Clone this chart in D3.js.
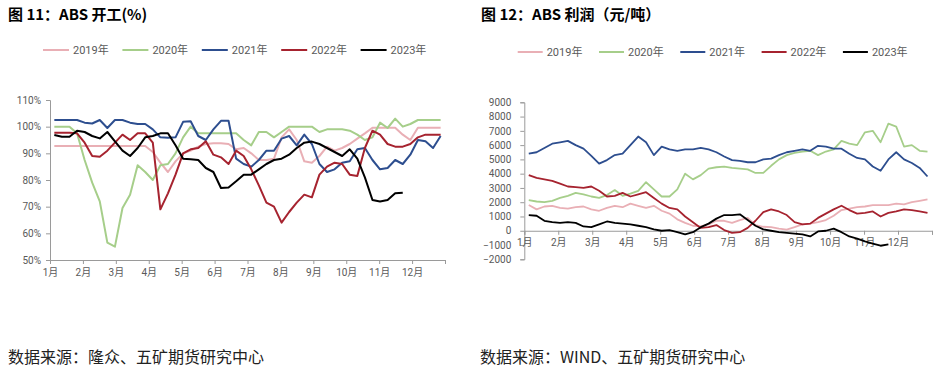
<!DOCTYPE html>
<html>
<head>
<meta charset="utf-8">
<script src="https://cdn.jsdelivr.net/npm/d3@7"></script>
<style>
  body { margin: 0; background: #fff; }
  text { font-family: Roboto, "Noto Sans CJK SC", sans-serif; }
</style>
</head>
<body>
<div id="chart"></div>
<script>
// categories
const months = ["1月", "2月", "3月", "4月", "5月", "6月", "7月", "8月", "9月", "10月", "11月", "12月"];
const years = ["2019年", "2020年", "2021年", "2022年", "2023年"];
const colors = ["#E9AFB5", "#A6CE8A", "#2D4E8F", "#A6232F", "#000000"];

// ABS 开工率 (%), weekly
const rate2019 = [92.75, 92.75, 92.75, 92.75, 92.75, 92.75, 92.75, 92.75, 92.75, 92.75, 92.75, 92.75, 92.75,
  90.5, 86.5, 83, 87, 90, 91, 92.5, 93.5, 93.75, 93.75, 93.5, 91.5, 92, 90, 87.5, 87.5, 88, 96, 99, 95, 87,
  86.5, 89, 92.5, 91, 92, 93.5, 95.5, 97.5, 99.6, 99.6, 99.6, 99.6, 97, 95, 99.6, 99.6, 99.6, 99.6];
const rate2020 = [100, 100, 100, 97.5, 87.5, 79, 72, 56.5, 55, 69.5, 74.5, 85.5, 83, 80, 85.5, 86, 90, 96, 100,
  97.5, 97.5, 97.5, 97.5, 97.5, 97.5, 95, 93, 98, 98, 96, 98, 100, 100, 100, 100, 98, 99, 99, 99, 98.5, 97, 95,
  96, 101.5, 99.5, 103, 100, 101, 102.5, 102.5, 102.5, 102.5];
const rate2021 = [102.5, 102.5, 102.5, 102.5, 101.5, 101.2, 102.5, 99.5, 102.5, 102.5, 101.5, 101, 101, 99, 96,
  95.8, 96, 101.8, 102, 96.5, 95, 99, 102.2, 102.2, 88, 86, 85, 87.5, 91, 91, 95.5, 96.5, 93, 97, 93.5, 86, 83,
  84, 86.5, 87, 91.5, 92, 87.5, 84, 84.5, 87.5, 86, 89.5, 95, 94.5, 92, 96.5];
const rate2022 = [97.75, 97.75, 97.75, 97.5, 94, 89, 88.75, 91, 94, 97, 95, 97.5, 97.5, 94, 69, 75, 82, 90, 91.5,
  92, 94.5, 89.5, 88.5, 86, 91, 89, 84, 78, 71.5, 70, 64, 68, 71.5, 74.5, 73.5, 82, 85, 86.5, 86, 82, 81.5, 92,
  98.5, 97, 93.5, 92.5, 92.5, 93.5, 96, 97, 97, 97];
const rate2023 = [96.9, 96.25, 96.25, 98.5, 98, 96.5, 95.6, 98, 94.5, 91, 89, 92, 96, 96.5, 97.5, 97.5, 93, 88,
  87.8, 87.5, 84.5, 83, 77, 77.2, 79.5, 82, 82, 84, 86, 87.5, 88, 89.5, 92, 94, 94.4, 93.5, 92, 90.5, 89, 91.5,
  88, 81, 72.5, 71.9, 72.5, 75, 75.25];
const rateTicks = [50, 60, 70, 80, 90, 100, 110];

// ABS 利润 (元/吨), weekly
const profit2019 = [1800, 1500, 1700, 1750, 1600, 1550, 1650, 1700, 1500, 1400, 1600, 1750, 1650, 1900, 1750,
  1600, 1750, 1400, 1200, 800, 550, 350, 300, 450, 700, 700, 550, 750, 900, 400, 280, 250, 150, 80, 250, 450,
  500, 600, 750, 1050, 1450, 1550, 1650, 1700, 1800, 1800, 1800, 1900, 1850, 2000, 2100, 2200];
const profit2020 = [2150, 2050, 2000, 2100, 2300, 2450, 2650, 2550, 2400, 2300, 2500, 2850, 2450, 2600, 2800,
  3400, 2900, 2400, 2400, 2900, 4000, 3600, 3900, 4350, 4450, 4500, 4400, 4350, 4300, 4050, 4050, 4550, 5000,
  5300, 5450, 5550, 5600, 5300, 5550, 5700, 6300, 6100, 6000, 6900, 7000, 6200, 7500, 7300, 5900, 6000, 5600, 5550];
const profit2021 = [5400, 5500, 5800, 6100, 6200, 6300, 6000, 5750, 5250, 4700, 4950, 5300, 5400, 6000, 6600,
  6200, 5300, 5900, 5700, 5600, 5700, 5700, 5800, 5700, 5500, 5200, 4950, 4900, 4800, 4800, 5000, 5050, 5300,
  5500, 5600, 5700, 5600, 5950, 5900, 5750, 5750, 5400, 5100, 5000, 4500, 4200, 5000, 5500, 5000, 4750, 4400, 3800];
const profit2022 = [3900, 3700, 3600, 3500, 3300, 3100, 3050, 3000, 3100, 2800, 2400, 2450, 2650, 2400, 2550,
  2700, 2300, 1900, 1600, 1500, 1000, 600, 200, 250, 400, 50, -150, -100, 200, 700, 1300, 1500, 1350, 1100, 600,
  450, 500, 900, 1200, 1500, 1750, 1450, 1200, 1250, 1350, 1000, 1250, 1350, 1500, 1450, 1350, 1250];
const profit2023 = [1100, 1050, 700, 600, 550, 600, 550, 300, 250, 450, 650, 550, 500, 450, 350, 250, 100, 0, 50,
  -100, -250, -100, 250, 500, 850, 1100, 1100, 1150, 750, 350, 100, 0, -100, -150, -200, -250, -400, -50, 0, 150,
  -100, -400, -550, -750, -900, -1050, -950];
const profitTicks = [-2000, -1000, 0, 1000, 2000, 3000, 4000, 5000, 6000, 7000, 8000, 9000];

const rateSeries = [rate2019, rate2020, rate2021, rate2022, rate2023];
const profitSeries = [profit2019, profit2020, profit2021, profit2022, profit2023];

// week index -> position in months
const weekToMonth = w => (w * 7 + 4) / 30.42;

const svg = d3.select("#chart").append("svg")
  .attr("width", 940)
  .attr("height", 376)
  .style("background", "#fff");

const axisColor = "#9a9a9a";
const labelColor = "#595959";

function styleAxis(g) {
  g.select(".domain").attr("stroke", axisColor);
  g.selectAll(".tick line").attr("stroke", axisColor);
  g.selectAll(".tick text")
    .attr("fill", labelColor)
    .style("font-size", "10px")
    .style("font-family", "Roboto, 'Noto Sans CJK SC', sans-serif");
}

function legend(x0, step, y, lineLen) {
  const lg = svg.append("g");
  years.forEach((yr, i) => {
    const x = x0 + i * step;
    lg.append("line")
      .attr("x1", x).attr("x2", x + lineLen)
      .attr("y1", y).attr("y2", y)
      .attr("stroke", colors[i])
      .attr("stroke-width", 2);
    lg.append("text")
      .attr("x", x + lineLen + 4)
      .attr("y", y)
      .attr("dy", "0.35em")
      .attr("fill", labelColor)
      .style("font-size", "11px")
      .text(yr);
  });
}

function drawLines(series, x, y, width) {
  const line = d3.line()
    .x((d, i) => x(weekToMonth(i)))
    .y(d => y(d));
  series.forEach((s, i) => {
    svg.append("path")
      .datum(s)
      .attr("fill", "none")
      .attr("stroke", colors[i])
      .attr("stroke-width", width)
      .attr("stroke-linejoin", "round")
      .attr("d", line);
  });
}

// ---------- left: 开工率 ----------
svg.append("text")
  .attr("x", 8).attr("y", 20)
  .style("font-family", "'Noto Sans CJK SC', sans-serif")
  .style("font-size", "15px")
  .style("font-weight", "bold")
  .text("图 11：ABS 开工(%)");

legend(43, 79.4, 50, 26);

const xL = d3.scaleLinear().domain([0, 12]).range([50, 445]);
const yL = d3.scaleLinear().domain([50, 110]).range([260, 100]);

svg.append("g")
  .attr("transform", `translate(0,${yL(50)})`)
  .call(d3.axisBottom(xL)
    .tickValues(d3.range(0, 13))
    .tickSize(4)
    .tickPadding(5)
    .tickFormat(d => months[d] || ""))
  .call(styleAxis);

svg.append("g")
  .attr("transform", `translate(${xL(0)},0)`)
  .call(d3.axisLeft(yL)
    .tickValues(rateTicks)
    .tickSize(4)
    .tickPadding(5)
    .tickFormat(d => d + "%"))
  .call(styleAxis);

drawLines(rateSeries, xL, yL, 2);

// ---------- right: 利润 ----------
svg.append("text")
  .attr("x", 481).attr("y", 20)
  .style("font-family", "'Noto Sans CJK SC', sans-serif")
  .style("font-size", "15px")
  .style("font-weight", "bold")
  .text("图 12：ABS 利润（元/吨）");

legend(517.7, 81.3, 52, 25);

const xR = d3.scaleLinear().domain([0, 12]).range([524.3, 932]);
const yR = d3.scaleLinear().domain([-2000, 9000]).range([259.3, 102.3]);

svg.append("g")
  .attr("transform", `translate(${xR(0)},0)`)
  .call(d3.axisLeft(yR)
    .tickValues(profitTicks)
    .tickSize(4)
    .tickPadding(9)
    .tickFormat(d3.format("d")))
  .call(styleAxis);

svg.append("g")
  .attr("transform", `translate(0,${yR(0)})`)
  .call(d3.axisBottom(xR)
    .tickValues(d3.range(0, 13))
    .tickSize(4)
    .tickPadding(4)
    .tickFormat(d => months[d] || ""))
  .call(styleAxis);

drawLines(profitSeries, xR, yR, 1.8);

// ---------- sources ----------
svg.append("text")
  .attr("x", 8).attr("y", 363)
  .style("font-family", "'Noto Sans CJK SC', sans-serif")
  .style("font-size", "16px")
  .attr("fill", "#222")
  .text("数据来源：隆众、五矿期货研究中心");

svg.append("text")
  .attr("x", 480).attr("y", 363)
  .style("font-family", "'Noto Sans CJK SC', sans-serif")
  .style("font-size", "16px")
  .attr("fill", "#222")
  .text("数据来源：WIND、五矿期货研究中心");
</script>
</body>
</html>
